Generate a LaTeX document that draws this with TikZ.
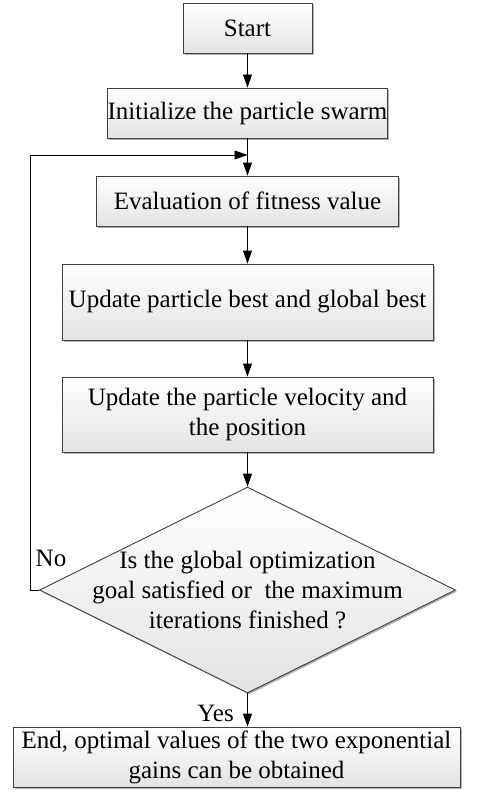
\documentclass[tikz,border=0pt]{standalone}
\usepackage{fontspec}
\setmainfont{Liberation Serif}
\usetikzlibrary{arrows.meta,shapes.geometric,shadows}
\begin{document}
\begin{tikzpicture}[x=1pt,y=-1pt,
  font=\fontsize{25}{30}\selectfont,
  boxstyle/.style={draw=black!75, line width=0.9pt, rectangle, inner sep=0pt,
    top color=white, bottom color=black!11, align=center,
    drop shadow={shadow xshift=1.6pt, shadow yshift=-1.6pt, fill=black!30, opacity=1}},
  arr/.style={line width=0.9pt, -{Triangle[length=13pt,width=9pt]}},
  lbl/.style={inner sep=0pt}]
\useasboundingbox (0,0) rectangle (480,797);
\node[boxstyle, minimum width=129pt, minimum height=50pt] (start) at (247.5,28) {Start};
\node[boxstyle, minimum width=223pt, minimum height=50pt] (init) at (247.5,113) {Initialize the particle swarm};
\node[boxstyle, minimum width=302pt, minimum height=50pt] (eval) at (247.5,201) {Evaluation of fitness value};
\node[boxstyle, minimum width=371pt, minimum height=76pt] (best) at (247.5,302) {Update particle best and global best};
\node[boxstyle, minimum width=371pt, minimum height=75pt] (vel) at (247.5,414.5) {Update the particle velocity and\\the position};
\node[boxstyle, diamond, aspect=2.02, minimum width=416pt, minimum height=206pt] (dec) at (247.5,590) {};
\node[lbl, align=center] (dectext) at (dec.center) {Is the global optimization\\goal satisfied or \ the maximum\\iterations finished ?};
\node[boxstyle, minimum width=447pt, minimum height=60pt] (end) at (236.5,757) {End, optimal values of the two exponential\\gains can be obtained};
\coordinate (join) at (247.5,155);
\coordinate (lp) at (30,155);
\draw[arr] (start) -- (init);
\draw[arr] (init) -- (eval);
\draw[arr] (eval) -- (best);
\draw[arr] (best) -- (vel);
\draw[arr] (vel) -- (dec.north);
\draw[arr] (dec.south) -- (dec.south |- end.north);
\draw[arr] (dec.west) -| (lp) -- (join);
\node[lbl, anchor=east] (yes) at (234,713) {Yes};
\node[lbl] (no) at (51,558) {No};
\end{tikzpicture}
\end{document}
